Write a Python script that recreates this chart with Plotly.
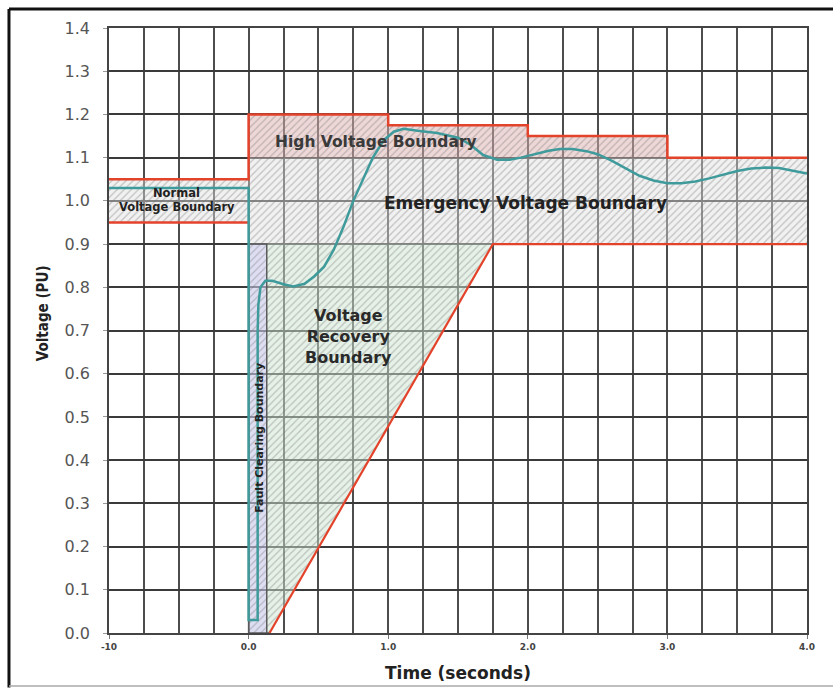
import numpy as np
import plotly.graph_objects as go

# ---- data (time in seconds, voltage in per-unit) ----
# Time axis is split: -10..0 s is compressed into the first interval, 0..4 s is linear.
CURVE_T = [-10, 0, 0, 0.065, 0.065, 0.07, 0.085, 0.12, 0.17, 0.25, 0.32, 0.4, 0.47, 0.54,
           0.61, 0.68, 0.75, 0.82, 0.89, 0.97, 1.04, 1.11, 1.21, 1.35, 1.5, 1.59, 1.68,
           1.78, 1.87, 1.95, 2.05, 2.15, 2.23, 2.32, 2.42, 2.5, 2.6, 2.7, 2.8, 2.9, 3.0,
           3.1, 3.2, 3.3, 3.4, 3.5, 3.6, 3.7, 3.8, 3.9, 4.0]
CURVE_V = [1.03, 1.03, 0.03, 0.03, 0.70, 0.76, 0.80, 0.815, 0.815, 0.807, 0.802, 0.808,
           0.825, 0.847, 0.887, 0.94, 1.0, 1.049, 1.10, 1.141, 1.16, 1.167, 1.162, 1.157,
           1.146, 1.13, 1.106, 1.095, 1.095, 1.10, 1.108, 1.116, 1.12, 1.12, 1.115, 1.108,
           1.093, 1.075, 1.058, 1.047, 1.041, 1.041, 1.045, 1.052, 1.061, 1.069, 1.075,
           1.077, 1.076, 1.07, 1.063]

# upper (high voltage) boundary, including the normal band ceiling
HV_T = [-10, 0, 0, 1, 1, 2, 2, 3, 3, 4]
HV_V = [1.05, 1.05, 1.2, 1.2, 1.175, 1.175, 1.15, 1.15, 1.1, 1.1]

# normal band floor
NORMAL_LOW_T = [-10, 0]
NORMAL_LOW_V = [0.95, 0.95]

# low voltage (recovery) boundary
LV_T = [0.15, 1.75, 4]
LV_V = [0, 0.9, 0.9]

# emergency band
EMERG_T = [0, 4]
EMERG_V = [0.9, 1.1]

# fault clearing window
FAULT_T = [0, 0.13]
FAULT_V = [0, 0.9]

X_TICK_T = [-10, 0, 1, 2, 3, 4]
X_TICK_TEXT = ["-10", "0.0", "1.0", "2.0", "3.0", "4.0"]


def tx(t):
    t = np.asarray(t, dtype=float)
    return np.where(t < 0, t / 10.0, t)


RED = "#e4432b"
TEAL = "#3f9b9b"
HATCH = "rgba(115,115,115,0.8)"


def region(xs, vs, bg):
    return go.Scatter(
        x=tx(xs), y=vs, mode="lines", fill="toself",
        line=dict(width=0, color="rgba(0,0,0,0)"),
        fillpattern=dict(shape="/", bgcolor=bg, fgcolor=HATCH, size=5, solidity=0.24),
        hoverinfo="skip", showlegend=False,
    )


fig = go.Figure()

# normal voltage band
fig.add_trace(region([-10, 0, 0, -10], [NORMAL_LOW_V[0], NORMAL_LOW_V[0], HV_V[0], HV_V[0]],
                     "rgba(225,225,225,0.45)"))
# emergency band
fig.add_trace(region([EMERG_T[0], EMERG_T[1], EMERG_T[1], EMERG_T[0]],
                     [EMERG_V[0], EMERG_V[0], EMERG_V[1], EMERG_V[1]],
                     "rgba(225,225,225,0.45)"))
# high voltage band (between emergency ceiling and upper boundary)
hv_t = [0] + HV_T[2:8] + [3]
hv_v = [EMERG_V[1]] + HV_V[2:8] + [EMERG_V[1]]
fig.add_trace(region(hv_t, hv_v, "rgba(222,175,175,0.5)"))
# voltage recovery region
rec_t = [FAULT_T[1], LV_T[0], LV_T[1], FAULT_T[1]]
rec_v = [0, LV_V[0], LV_V[1], LV_V[1]]
fig.add_trace(region(rec_t, rec_v, "rgba(205,230,210,0.5)"))
# fault clearing window
fig.add_trace(go.Scatter(
    x=tx([FAULT_T[0], LV_T[0], FAULT_T[1], FAULT_T[1], FAULT_T[0], FAULT_T[0]]),
    y=[FAULT_V[0], FAULT_V[0], FAULT_V[0], FAULT_V[1], FAULT_V[1], FAULT_V[0]],
    mode="lines", fill="toself", line=dict(width=1.5, color="#5a5a5a"),
    fillpattern=dict(shape="/", bgcolor="rgba(200,200,235,0.6)", fgcolor=HATCH,
                     size=5, solidity=0.24),
    hoverinfo="skip", showlegend=False,
))

# boundary lines
fig.add_trace(go.Scatter(x=tx(HV_T), y=HV_V, mode="lines",
                         line=dict(color=RED, width=2.5), showlegend=False))
fig.add_trace(go.Scatter(x=tx(NORMAL_LOW_T), y=NORMAL_LOW_V, mode="lines",
                         line=dict(color=RED, width=2.5), showlegend=False))
fig.add_trace(go.Scatter(x=tx(LV_T), y=LV_V, mode="lines",
                         line=dict(color=RED, width=2.2), showlegend=False))

# voltage response
fig.add_trace(go.Scatter(x=tx(CURVE_T), y=CURVE_V, mode="lines",
                         line=dict(color=TEAL, width=2.5), showlegend=False))

GRID = "#4d4d4d"
fig.update_xaxes(
    range=[-1, 4], tickmode="array", tickvals=tx(X_TICK_T), ticktext=X_TICK_TEXT,
    showgrid=True, gridcolor=GRID, gridwidth=1.5, zeroline=False,
    minor=dict(dtick=0.25, tick0=0, showgrid=True, gridcolor=GRID, gridwidth=1.5),
    ticks="outside", ticklen=4, tickcolor="#777",
    tickfont=dict(family="DejaVu Sans", size=9, color="#444", weight="bold"),
    showline=True, linecolor="#444", linewidth=1.5, mirror=True,
)
fig.update_yaxes(
    range=[0, 1.4], dtick=0.1, tickformat=".1f",
    showgrid=True, gridcolor="#3a3a3a", gridwidth=1.5, zeroline=False,
    ticks="outside", ticklen=4, tickcolor="#999", ticklabelstandoff=10,
    tickfont=dict(family="DejaVu Sans", size=16, color="#555"),
    showline=True, linecolor="#444", linewidth=1.5, mirror=True,
)

ann = [
    dict(x=-0.513, y=1.018, text="Normal",
         font=dict(family="DejaVu Sans", size=11.5, color="#222", weight="bold")),
    dict(x=-0.513, y=0.986, text="Voltage Boundary",
         font=dict(family="DejaVu Sans", size=11.5, color="#222", weight="bold")),
    dict(x=0.909, y=1.137, text="High Voltage Boundary",
         font=dict(family="DejaVu Sans", size=15.5, color="#3a3a3a", weight="bold")),
    dict(x=1.98, y=0.995, text="Emergency Voltage Boundary",
         font=dict(family="DejaVu Sans", size=17, color="#222", weight="bold")),
    dict(x=0.716, y=0.685, text="Voltage<br>Recovery<br>Boundary",
         font=dict(family="DejaVu Sans", size=16, color="#2a2a2a", weight="bold")),
    dict(x=0.072, y=0.451, text="Fault Clearing Boundary", textangle=-90,
         font=dict(family="DejaVu Sans", size=11, color="#222", weight="bold")),
]
for a in ann:
    fig.add_annotation(showarrow=False, xref="x", yref="y", **a)

# axis titles
fig.add_annotation(x=0.5, y=-0.066, xref="paper", yref="paper", showarrow=False,
                   text="Time (seconds)", yanchor="middle",
                   font=dict(family="DejaVu Sans", size=17, color="#222", weight="bold"))
fig.add_annotation(x=-0.11, y=0.529, xref="paper", yref="paper", showarrow=False,
                   text="Voltage (PU)", textangle=-90,
                   font=dict(family="Liberation Sans Narrow, DejaVu Sans Condensed, sans-serif",
                             size=15, color="#222", weight="bold"))

# outer frame
fig.add_shape(type="line", xref="paper", yref="paper", x0=-0.1433, x1=1.04, y0=1.0314, y1=1.0314,
              line=dict(color="#111", width=3))
fig.add_shape(type="line", xref="paper", yref="paper", x0=-0.1433, x1=-0.1433, y0=1.0314, y1=-0.09,
              line=dict(color="#111", width=3))
fig.add_shape(type="line", xref="paper", yref="paper", x0=-0.1433, x1=1.04, y0=-0.0876, y1=-0.0876,
              line=dict(color="#aaa", width=1.5))

fig.update_layout(
    width=833, height=688,
    margin=dict(l=109, r=26, t=28, b=55),
    paper_bgcolor="white", plot_bgcolor="white",
    showlegend=False,
)

fig.write_html("out.html")
